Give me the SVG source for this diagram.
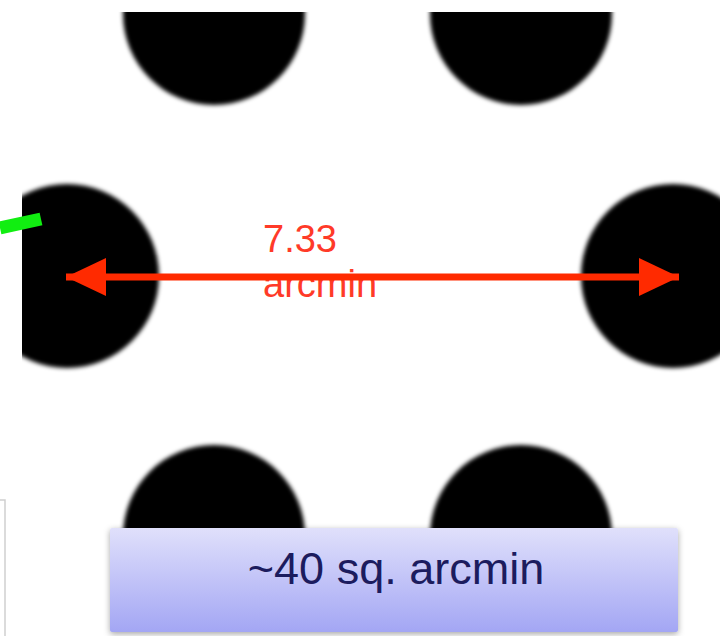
<svg xmlns="http://www.w3.org/2000/svg" width="720" height="636" viewBox="0 0 720 636">
  <defs>
    <filter id="soft" x="-10%" y="-10%" width="120%" height="120%">
      <feGaussianBlur stdDeviation="2"/>
    </filter>
    <filter id="shadow" x="-5%" y="-20%" width="110%" height="140%">
      <feDropShadow dx="0" dy="2" stdDeviation="3" flood-color="#000" flood-opacity="0.35"/>
    </filter>
    <clipPath id="frame">
      <rect x="22" y="12" width="698" height="624"/>
    </clipPath>
    <linearGradient id="boxgrad" x1="0" y1="0" x2="0" y2="1">
      <stop offset="0" stop-color="#e0e0fb"/>
      <stop offset="1" stop-color="#a3a6f4"/>
    </linearGradient>
    <marker id="ah" viewBox="0 0 40 38" refX="40" refY="19" markerWidth="40" markerHeight="38" markerUnits="userSpaceOnUse" orient="auto-start-reverse">
      <path d="M0,0 L40,19 L0,38 Z" fill="#ff2a00"/>
    </marker>
    <style>
      .dot { fill: #000; filter: url(#soft); }
      .lbl { font-family: "Liberation Sans", Arial, sans-serif; font-size: 38px; fill: #ff3a28; }
      .box-text { font-family: "Liberation Sans", Arial, sans-serif; font-size: 45px; fill: #1c1c5e; }
    </style>
  </defs>
  <rect width="720" height="636" fill="#fff"/>

  <g id="dots" clip-path="url(#frame)">
    <circle id="dot-top-left" class="dot" cx="214" cy="14" r="91"/>
    <circle id="dot-top-right" class="dot" cx="521" cy="14" r="91"/>
    <circle id="dot-mid-left" class="dot" cx="67" cy="276" r="92"/>
    <circle id="dot-mid-right" class="dot" cx="673" cy="276" r="92"/>
    <circle id="dot-bot-left" class="dot" cx="214" cy="536" r="91"/>
    <circle id="dot-bot-right" class="dot" cx="521" cy="536" r="91"/>
  </g>

  <g id="panel-edge">
    <path d="M0,500 H5 V636" fill="none" stroke="#cfcfcf" stroke-width="1.5"/>
  </g>

  <g id="label">
    <text class="lbl" x="263" y="252">7.33</text>
    <text class="lbl" x="263" y="297">arcmin</text>
  </g>

  <g id="connectors">
    <line id="green-line" x1="0" y1="228" x2="41" y2="219" stroke="#11ee11" stroke-width="13"/>
    <line id="span-arrow" x1="66" y1="277" x2="679" y2="277" stroke="#ff2a00" stroke-width="7" marker-start="url(#ah)" marker-end="url(#ah)"/>
  </g>

  <g id="area-box">
    <rect x="110" y="528" width="568" height="104" rx="2" fill="url(#boxgrad)" filter="url(#shadow)"/>
    <text class="box-text" x="396" y="572" text-anchor="middle" dominant-baseline="middle">~40 sq. arcmin</text>
  </g>
</svg>
